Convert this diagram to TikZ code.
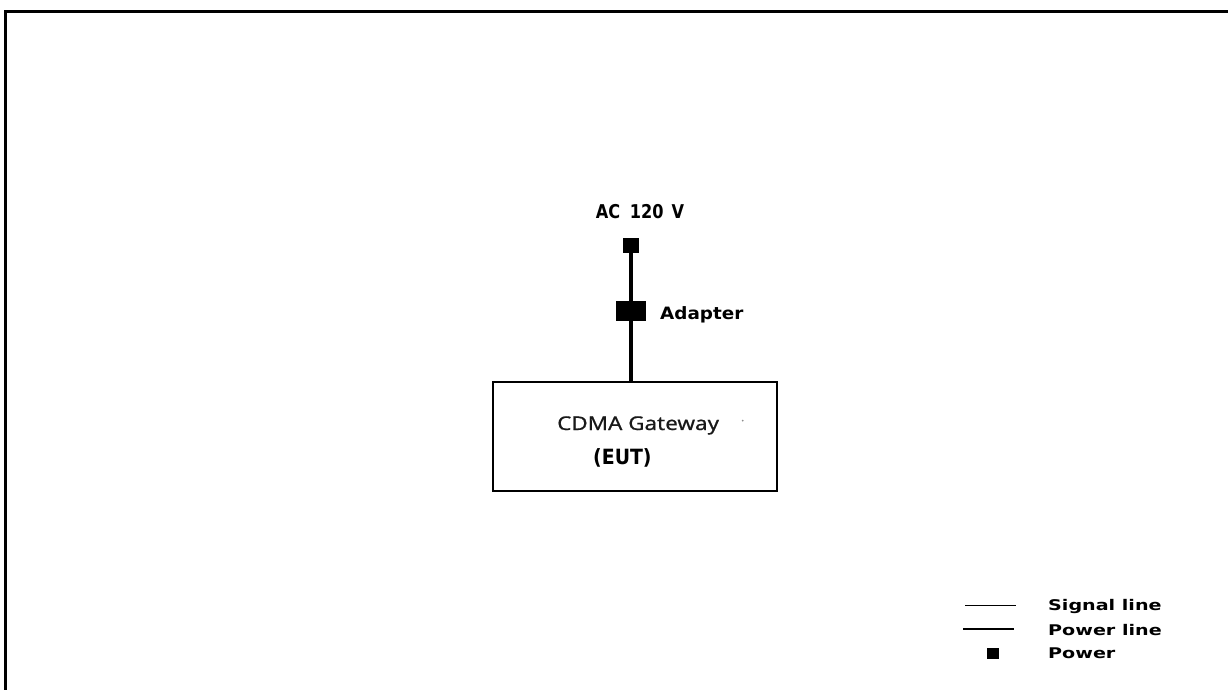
\documentclass[tikz,border=0pt]{standalone}
\usepackage{fontspec}
\newfontfamily\labfont{DejaVu Sans}
\newfontfamily\boxfont[FakeBold=0.6]{Noto Sans}
\begin{document}
\begin{tikzpicture}[x=1pt,y=-1pt,
  blk/.style={draw=none,fill=black,inner sep=0pt,minimum width=#1},
  lab/.style={inner sep=0pt,font=\labfont\bfseries},
  frameline/.style={line width=3pt,line join=miter},
  pline/.style={line width=3.5pt},
  sline/.style={line width=1.3pt},
  legpline/.style={line width=2.3pt}]
\useasboundingbox (0,0) rectangle (1228,689);
\begin{scope}
\clip (0,0) rectangle (1228,689);
\draw[frameline] (5.5,700) -- (5.5,11.5) -- (1240,11.5);
\end{scope}
% power chain
\node[blk=16pt,minimum height=15pt] (acsq) at (631,245) {};
\node[blk=30pt,minimum height=20pt] (adapter) at (631,311) {};
\node[draw,line width=2pt,minimum width=284pt,minimum height=109pt,inner sep=0pt] (eut) at (635,436.5) {};
\draw[pline] (acsq.center) -- (adapter.center) -- (adapter.center |- eut.north);
% labels
\node[lab,anchor=base,font=\labfont\bfseries\fontsize{19pt}{19pt}\selectfont] (aclab) at (640,218) {\scalebox{0.85}[1]{AC\hspace{0.6em}120\hspace{0.5em}V}};
\node[lab,anchor=base west,font=\labfont\bfseries\fontsize{17pt}{17pt}\selectfont] (adlab) at (660,319.3) {\scalebox{1.08}[1]{Adapter}};
\node[inner sep=0pt,anchor=base west,text=black!90,font=\boxfont\fontsize{19pt}{19pt}\selectfont] (gw) at (557,430) {\scalebox{1.18}[1]{CDMA Gateway}};
\node[lab,anchor=base west,font=\labfont\bfseries\fontsize{21pt}{21pt}\selectfont] (eutlab) at (593,464.3) {\scalebox{0.9}[1]{(EUT)}};
\fill[black!45] (742.7,420.7) circle (1pt);
% legend
\coordinate (s1) at (965,605.7);
\coordinate (s2) at (1016,605.7);
\coordinate (p1) at (963,629.3);
\coordinate (p2) at (1014,629.3);
\draw[sline] (s1) -- (s2);
\draw[legpline] (p1) -- (p2);
\node[blk=12pt,minimum height=11pt] (legsq) at (993,653.5) {};
\node[lab,anchor=base west,font=\labfont\bfseries\fontsize{14.7pt}{14.7pt}\selectfont] (l1) at (1048,610.7) {\scalebox{1.3}[1]{Signal line}};
\node[lab,anchor=base west,font=\labfont\bfseries\fontsize{14.7pt}{14.7pt}\selectfont] (l2) at (1048,635.7) {\scalebox{1.3}[1]{Power line}};
\node[lab,anchor=base west,font=\labfont\bfseries\fontsize{14.7pt}{14.7pt}\selectfont] (l3) at (1048,658.3) {\scalebox{1.3}[1]{Power}};
\end{tikzpicture}
\end{document}
